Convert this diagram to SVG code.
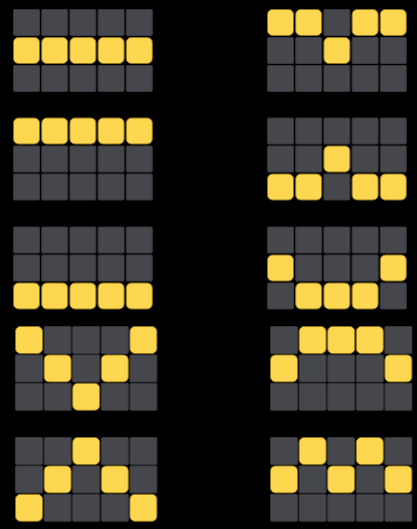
<svg xmlns="http://www.w3.org/2000/svg" width="417" height="529" viewBox="0 0 417 529">
<style>
.d{fill:#46474c;stroke:#36373b;stroke-width:1}
.y{fill:#fed751;stroke:#8f7420;stroke-width:1}
</style>
<rect width="417" height="529" fill="#000"/>
<!-- pattern 1 left -->
<g id="p1-left" transform="translate(13,9)">
<rect class="d" x="0.5" y="0.5" width="26" height="26" rx="1"/><rect class="d" x="28.7" y="0.5" width="26" height="26" rx="1"/><rect class="d" x="56.9" y="0.5" width="26" height="26" rx="1"/><rect class="d" x="85.1" y="0.5" width="26" height="26" rx="1"/><rect class="d" x="113.3" y="0.5" width="26" height="26" rx="1"/>
<rect class="y" x="0.5" y="28.5" width="26" height="26" rx="5"/><rect class="y" x="28.7" y="28.5" width="26" height="26" rx="5"/><rect class="y" x="56.9" y="28.5" width="26" height="26" rx="5"/><rect class="y" x="85.1" y="28.5" width="26" height="26" rx="5"/><rect class="y" x="113.3" y="28.5" width="26" height="26" rx="5"/>
<rect class="d" x="0.5" y="56.5" width="26" height="26" rx="1"/><rect class="d" x="28.7" y="56.5" width="26" height="26" rx="1"/><rect class="d" x="56.9" y="56.5" width="26" height="26" rx="1"/><rect class="d" x="85.1" y="56.5" width="26" height="26" rx="1"/><rect class="d" x="113.3" y="56.5" width="26" height="26" rx="1"/>
</g>
<g id="p1-right" transform="translate(267,9)">
<rect class="y" x="0.5" y="0.5" width="26" height="26" rx="5"/><rect class="y" x="28.7" y="0.5" width="26" height="26" rx="5"/><rect class="d" x="56.9" y="0.5" width="26" height="26" rx="1"/><rect class="y" x="85.1" y="0.5" width="26" height="26" rx="5"/><rect class="y" x="113.3" y="0.5" width="26" height="26" rx="5"/>
<rect class="d" x="0.5" y="28.5" width="26" height="26" rx="1"/><rect class="d" x="28.7" y="28.5" width="26" height="26" rx="1"/><rect class="y" x="56.9" y="28.5" width="26" height="26" rx="5"/><rect class="d" x="85.1" y="28.5" width="26" height="26" rx="1"/><rect class="d" x="113.3" y="28.5" width="26" height="26" rx="1"/>
<rect class="d" x="0.5" y="56.5" width="26" height="26" rx="1"/><rect class="d" x="28.7" y="56.5" width="26" height="26" rx="1"/><rect class="d" x="56.9" y="56.5" width="26" height="26" rx="1"/><rect class="d" x="85.1" y="56.5" width="26" height="26" rx="1"/><rect class="d" x="113.3" y="56.5" width="26" height="26" rx="1"/>
</g>
<g id="p2-left" transform="translate(13,117.5)">
<rect class="y" x="0.5" y="0.5" width="26" height="26" rx="5"/><rect class="y" x="28.7" y="0.5" width="26" height="26" rx="5"/><rect class="y" x="56.9" y="0.5" width="26" height="26" rx="5"/><rect class="y" x="85.1" y="0.5" width="26" height="26" rx="5"/><rect class="y" x="113.3" y="0.5" width="26" height="26" rx="5"/>
<rect class="d" x="0.5" y="28.5" width="26" height="26" rx="1"/><rect class="d" x="28.7" y="28.5" width="26" height="26" rx="1"/><rect class="d" x="56.9" y="28.5" width="26" height="26" rx="1"/><rect class="d" x="85.1" y="28.5" width="26" height="26" rx="1"/><rect class="d" x="113.3" y="28.5" width="26" height="26" rx="1"/>
<rect class="d" x="0.5" y="56.5" width="26" height="26" rx="1"/><rect class="d" x="28.7" y="56.5" width="26" height="26" rx="1"/><rect class="d" x="56.9" y="56.5" width="26" height="26" rx="1"/><rect class="d" x="85.1" y="56.5" width="26" height="26" rx="1"/><rect class="d" x="113.3" y="56.5" width="26" height="26" rx="1"/>
</g>
<g id="p2-right" transform="translate(267,117.5)">
<rect class="d" x="0.5" y="0.5" width="26" height="26" rx="1"/><rect class="d" x="28.7" y="0.5" width="26" height="26" rx="1"/><rect class="d" x="56.9" y="0.5" width="26" height="26" rx="1"/><rect class="d" x="85.1" y="0.5" width="26" height="26" rx="1"/><rect class="d" x="113.3" y="0.5" width="26" height="26" rx="1"/>
<rect class="d" x="0.5" y="28.5" width="26" height="26" rx="1"/><rect class="d" x="28.7" y="28.5" width="26" height="26" rx="1"/><rect class="y" x="56.9" y="28.5" width="26" height="26" rx="5"/><rect class="d" x="85.1" y="28.5" width="26" height="26" rx="1"/><rect class="d" x="113.3" y="28.5" width="26" height="26" rx="1"/>
<rect class="y" x="0.5" y="56.5" width="26" height="26" rx="5"/><rect class="y" x="28.7" y="56.5" width="26" height="26" rx="5"/><rect class="d" x="56.9" y="56.5" width="26" height="26" rx="1"/><rect class="y" x="85.1" y="56.5" width="26" height="26" rx="5"/><rect class="y" x="113.3" y="56.5" width="26" height="26" rx="5"/>
</g>
<g id="p3-left" transform="translate(13,226.5)">
<rect class="d" x="0.5" y="0.5" width="26" height="26" rx="1"/><rect class="d" x="28.7" y="0.5" width="26" height="26" rx="1"/><rect class="d" x="56.9" y="0.5" width="26" height="26" rx="1"/><rect class="d" x="85.1" y="0.5" width="26" height="26" rx="1"/><rect class="d" x="113.3" y="0.5" width="26" height="26" rx="1"/>
<rect class="d" x="0.5" y="28.5" width="26" height="26" rx="1"/><rect class="d" x="28.7" y="28.5" width="26" height="26" rx="1"/><rect class="d" x="56.9" y="28.5" width="26" height="26" rx="1"/><rect class="d" x="85.1" y="28.5" width="26" height="26" rx="1"/><rect class="d" x="113.3" y="28.5" width="26" height="26" rx="1"/>
<rect class="y" x="0.5" y="56.5" width="26" height="26" rx="5"/><rect class="y" x="28.7" y="56.5" width="26" height="26" rx="5"/><rect class="y" x="56.9" y="56.5" width="26" height="26" rx="5"/><rect class="y" x="85.1" y="56.5" width="26" height="26" rx="5"/><rect class="y" x="113.3" y="56.5" width="26" height="26" rx="5"/>
</g>
<g id="p3-right" transform="translate(267,226.5)">
<rect class="d" x="0.5" y="0.5" width="26" height="26" rx="1"/><rect class="d" x="28.7" y="0.5" width="26" height="26" rx="1"/><rect class="d" x="56.9" y="0.5" width="26" height="26" rx="1"/><rect class="d" x="85.1" y="0.5" width="26" height="26" rx="1"/><rect class="d" x="113.3" y="0.5" width="26" height="26" rx="1"/>
<rect class="y" x="0.5" y="28.5" width="26" height="26" rx="5"/><rect class="d" x="28.7" y="28.5" width="26" height="26" rx="1"/><rect class="d" x="56.9" y="28.5" width="26" height="26" rx="1"/><rect class="d" x="85.1" y="28.5" width="26" height="26" rx="1"/><rect class="y" x="113.3" y="28.5" width="26" height="26" rx="5"/>
<rect class="d" x="0.5" y="56.5" width="26" height="26" rx="1"/><rect class="y" x="28.7" y="56.5" width="26" height="26" rx="5"/><rect class="y" x="56.9" y="56.5" width="26" height="26" rx="5"/><rect class="y" x="85.1" y="56.5" width="26" height="26" rx="5"/><rect class="d" x="113.3" y="56.5" width="26" height="26" rx="1"/>
</g>
<g id="p4-left" transform="translate(15,326)">
<rect class="y" x="0.5" y="0.5" width="27" height="27" rx="5"/><rect class="d" x="29.1" y="0.5" width="27" height="27" rx="1"/><rect class="d" x="57.7" y="0.5" width="27" height="27" rx="1"/><rect class="d" x="86.3" y="0.5" width="27" height="27" rx="1"/><rect class="y" x="114.9" y="0.5" width="27" height="27" rx="5"/>
<rect class="d" x="0.5" y="28.9" width="27" height="27" rx="1"/><rect class="y" x="29.1" y="28.9" width="27" height="27" rx="5"/><rect class="d" x="57.7" y="28.9" width="27" height="27" rx="1"/><rect class="y" x="86.3" y="28.9" width="27" height="27" rx="5"/><rect class="d" x="114.9" y="28.9" width="27" height="27" rx="1"/>
<rect class="d" x="0.5" y="57.3" width="27" height="27" rx="1"/><rect class="d" x="29.1" y="57.3" width="27" height="27" rx="1"/><rect class="y" x="57.7" y="57.3" width="27" height="27" rx="5"/><rect class="d" x="86.3" y="57.3" width="27" height="27" rx="1"/><rect class="d" x="114.9" y="57.3" width="27" height="27" rx="1"/>
</g>
<g id="p4-right" transform="translate(270,326)">
<rect class="d" x="0.5" y="0.5" width="27" height="27" rx="1"/><rect class="y" x="29.1" y="0.5" width="27" height="27" rx="5"/><rect class="y" x="57.7" y="0.5" width="27" height="27" rx="5"/><rect class="y" x="86.3" y="0.5" width="27" height="27" rx="5"/><rect class="d" x="114.9" y="0.5" width="27" height="27" rx="1"/>
<rect class="y" x="0.5" y="28.9" width="27" height="27" rx="5"/><rect class="d" x="29.1" y="28.9" width="27" height="27" rx="1"/><rect class="d" x="57.7" y="28.9" width="27" height="27" rx="1"/><rect class="d" x="86.3" y="28.9" width="27" height="27" rx="1"/><rect class="y" x="114.9" y="28.9" width="27" height="27" rx="5"/>
<rect class="d" x="0.5" y="57.3" width="27" height="27" rx="1"/><rect class="d" x="29.1" y="57.3" width="27" height="27" rx="1"/><rect class="d" x="57.7" y="57.3" width="27" height="27" rx="1"/><rect class="d" x="86.3" y="57.3" width="27" height="27" rx="1"/><rect class="d" x="114.9" y="57.3" width="27" height="27" rx="1"/>
</g>
<g id="p5-left" transform="translate(15,437)">
<rect class="d" x="0.5" y="0.5" width="27" height="27" rx="1"/><rect class="d" x="29.1" y="0.5" width="27" height="27" rx="1"/><rect class="y" x="57.7" y="0.5" width="27" height="27" rx="5"/><rect class="d" x="86.3" y="0.5" width="27" height="27" rx="1"/><rect class="d" x="114.9" y="0.5" width="27" height="27" rx="1"/>
<rect class="d" x="0.5" y="28.9" width="27" height="27" rx="1"/><rect class="y" x="29.1" y="28.9" width="27" height="27" rx="5"/><rect class="d" x="57.7" y="28.9" width="27" height="27" rx="1"/><rect class="y" x="86.3" y="28.9" width="27" height="27" rx="5"/><rect class="d" x="114.9" y="28.9" width="27" height="27" rx="1"/>
<rect class="y" x="0.5" y="57.3" width="27" height="27" rx="5"/><rect class="d" x="29.1" y="57.3" width="27" height="27" rx="1"/><rect class="d" x="57.7" y="57.3" width="27" height="27" rx="1"/><rect class="d" x="86.3" y="57.3" width="27" height="27" rx="1"/><rect class="y" x="114.9" y="57.3" width="27" height="27" rx="5"/>
</g>
<g id="p5-right" transform="translate(270,437)">
<rect class="d" x="0.5" y="0.5" width="27" height="27" rx="1"/><rect class="y" x="29.1" y="0.5" width="27" height="27" rx="5"/><rect class="d" x="57.7" y="0.5" width="27" height="27" rx="1"/><rect class="y" x="86.3" y="0.5" width="27" height="27" rx="5"/><rect class="d" x="114.9" y="0.5" width="27" height="27" rx="1"/>
<rect class="y" x="0.5" y="28.9" width="27" height="27" rx="5"/><rect class="d" x="29.1" y="28.9" width="27" height="27" rx="1"/><rect class="y" x="57.7" y="28.9" width="27" height="27" rx="5"/><rect class="d" x="86.3" y="28.9" width="27" height="27" rx="1"/><rect class="y" x="114.9" y="28.9" width="27" height="27" rx="5"/>
<rect class="d" x="0.5" y="57.3" width="27" height="27" rx="1"/><rect class="d" x="29.1" y="57.3" width="27" height="27" rx="1"/><rect class="d" x="57.7" y="57.3" width="27" height="27" rx="1"/><rect class="d" x="86.3" y="57.3" width="27" height="27" rx="1"/><rect class="d" x="114.9" y="57.3" width="27" height="27" rx="1"/>
</g>
</svg>
